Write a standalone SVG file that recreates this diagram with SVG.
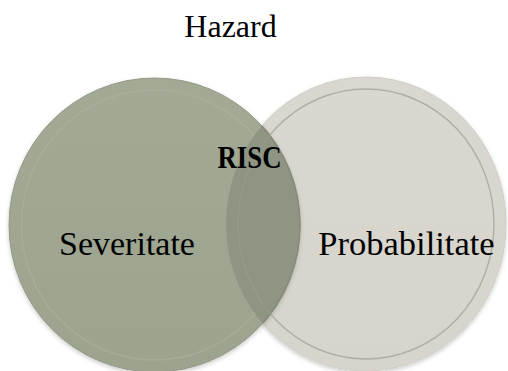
<svg xmlns="http://www.w3.org/2000/svg" width="508" height="371" viewBox="0 0 508 371">
  <style>
    .lbl { font-family: "Liberation Serif", "Times New Roman", serif; fill: #000; }
    .ring { fill: none; stroke-width: 1.5; }
  </style>
  <defs>
    <linearGradient id="gL" x1="0" y1="0" x2="0" y2="1">
      <stop offset="0" stop-color="#A2A995"/>
      <stop offset="1" stop-color="#9CA38F"/>
    </linearGradient>
    <linearGradient id="gR" x1="0" y1="0" x2="0" y2="1">
      <stop offset="0" stop-color="#DAD7D0"/>
      <stop offset="1" stop-color="#D7D4CC"/>
    </linearGradient>
    <clipPath id="clipR">
      <ellipse cx="366" cy="224" rx="140" ry="147"/>
    </clipPath>
    <filter id="sh" x="-10%" y="-10%" width="120%" height="120%">
      <feDropShadow dx="0" dy="2" stdDeviation="2" flood-color="#000" flood-opacity="0.2"/>
    </filter>
  </defs>
  <rect width="508" height="371" fill="#FFFFFF"/>
  <g id="node-probabilitate">
    <ellipse cx="366" cy="224" rx="140" ry="147" fill="url(#gR)" stroke="#D0CDC5" stroke-width="1" filter="url(#sh)"/>
    <ellipse class="ring" cx="366" cy="224" rx="128" ry="135" stroke="#E6E4DE" stroke-opacity="0.6"/>
  </g>
  <g id="node-severitate">
    <ellipse cx="154.5" cy="225" rx="145.5" ry="147" fill="url(#gL)" stroke="#939985" stroke-width="1" filter="url(#sh)"/>
    <ellipse class="ring" cx="154.5" cy="225" rx="133" ry="135" stroke="#ACB29F" stroke-opacity="0.6"/>
  </g>
  <g id="node-risc">
    <g clip-path="url(#clipR)">
      <ellipse cx="154.5" cy="225" rx="145.5" ry="147" fill="#8F9583" stroke="#858B79" stroke-width="1.5"/>
      <ellipse class="ring" cx="366" cy="224" rx="128" ry="135" stroke="#979D8B" stroke-opacity="0.7"/>
    </g>
  </g>
  <g id="labels">
    <text class="lbl" x="230.5" y="37" font-size="32" text-anchor="middle">Hazard</text>
    <text class="lbl" x="249.5" y="168" font-size="31" font-weight="bold" text-anchor="middle" textLength="64" lengthAdjust="spacingAndGlyphs">RISC</text>
    <text class="lbl" x="127" y="255" font-size="34" text-anchor="middle">Severitate</text>
    <text class="lbl" x="406.5" y="255" font-size="34.5" text-anchor="middle">Probabilitate</text>
  </g>
  <g id="connectors"/>
</svg>
